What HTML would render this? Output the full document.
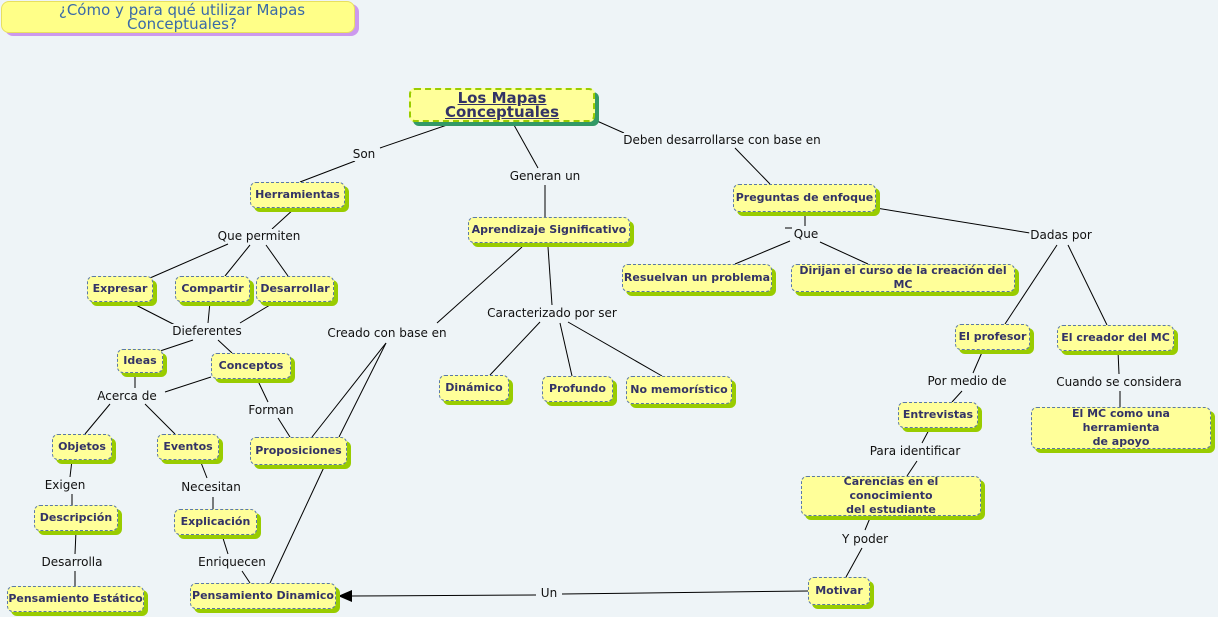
<!DOCTYPE html>
<html><head><meta charset="utf-8">
<style>
html,body{margin:0;padding:0;}
body{width:1218px;height:617px;background:#eef4f7;position:relative;overflow:hidden;font-family:"DejaVu Sans","Liberation Sans",sans-serif;}
.n{position:absolute;box-sizing:border-box;background:#ffff99;border:1px dashed #5a78a8;border-radius:6px;box-shadow:4px 4px 0 #99cc00;color:#333366;font-weight:bold;font-size:11px;display:flex;align-items:center;justify-content:center;text-align:center;line-height:14px;}
.l{position:absolute;font-size:12px;color:#111;white-space:nowrap;transform:translate(-50%,-50%);background:#eef4f7;padding:0 1px;}
svg{position:absolute;left:0;top:0;}
</style></head><body>
<svg width="1218" height="617">
<g stroke="#000" stroke-width="1" fill="none">
<line x1="447" y1="125" x2="380" y2="148"/><line x1="355" y1="161" x2="300" y2="182"/>
<line x1="514" y1="125" x2="538" y2="168"/><line x1="545" y1="185" x2="545" y2="217"/>
<line x1="597" y1="121" x2="624" y2="133"/><line x1="735" y1="148" x2="770" y2="184"/>
<line x1="295" y1="208" x2="272" y2="229"/>
<line x1="228" y1="244" x2="150" y2="278"/><line x1="250" y1="245" x2="225" y2="276"/><line x1="266" y1="245" x2="288" y2="276"/>
<line x1="130" y1="302" x2="175" y2="325"/><line x1="210" y1="302" x2="208" y2="323"/><line x1="275" y1="302" x2="240" y2="323"/>
<line x1="193" y1="340" x2="160" y2="351"/><line x1="218" y1="340" x2="232" y2="353"/>
<line x1="135" y1="373" x2="135" y2="388"/><line x1="211" y1="377" x2="165" y2="392"/>
<line x1="110" y1="404" x2="85" y2="434"/><line x1="145" y1="404" x2="175" y2="434"/>
<line x1="258" y1="381" x2="268" y2="402"/><line x1="278" y1="418" x2="290" y2="437"/>
<line x1="72" y1="460" x2="70" y2="477"/><line x1="72" y1="494" x2="72" y2="505"/>
<line x1="76" y1="531" x2="75" y2="554"/><line x1="75" y1="571" x2="75" y2="586"/>
<line x1="200" y1="460" x2="207" y2="478"/><line x1="213" y1="497" x2="213" y2="509"/>
<line x1="222" y1="535" x2="228" y2="554"/><line x1="242" y1="571" x2="250" y2="583"/>
<line x1="522" y1="247" x2="437" y2="323"/>
<line x1="386" y1="343" x2="312" y2="437"/><line x1="386" y1="343" x2="339" y2="437"/>
<line x1="325" y1="465" x2="270" y2="583"/>
<line x1="548" y1="247" x2="552" y2="305"/>
<line x1="540" y1="322" x2="490" y2="375"/><line x1="560" y1="323" x2="572" y2="376"/><line x1="568" y1="322" x2="662" y2="376"/>
<line x1="792" y1="228" x2="785" y2="228"/>
<line x1="790" y1="241" x2="735" y2="264"/><line x1="820" y1="242" x2="868" y2="264"/>
<line x1="876" y1="208" x2="1030" y2="233"/><line x1="805" y1="212" x2="805" y2="226"/>
<line x1="1057" y1="245" x2="1005" y2="324"/><line x1="1068" y1="245" x2="1107" y2="325"/>
<line x1="983" y1="350" x2="973" y2="373"/><line x1="962" y1="391" x2="952" y2="402"/>
<line x1="1118" y1="351" x2="1119" y2="374"/><line x1="1120" y1="391" x2="1120" y2="407"/>
<line x1="930" y1="428" x2="922" y2="443"/><line x1="917" y1="461" x2="907" y2="476"/>
<line x1="870" y1="518" x2="865" y2="530"/><line x1="862" y1="548" x2="846" y2="577"/>
<line x1="808" y1="591" x2="562" y2="594"/><line x1="536" y1="595" x2="350" y2="596"/>
</g>
<polygon points="338,596 352,590 352,602" fill="#000"/>
</svg>

<div class="n" style="left:1px;top:1px;width:354px;height:32px;background:#ffff88;border:1px solid #e8e060;border-radius:8px;box-shadow:4px 3px 0 #cc99ee;font-weight:normal;font-size:15px;color:#3a6aa8;justify-content:flex-start;padding-left:8px;">¿Cómo y para qué utilizar Mapas Conceptuales?</div>

<div class="n" style="left:409px;top:88px;width:186px;height:34px;border:2px dashed #99cc00;box-shadow:4px 4px 0 #339966;font-size:15px;"><span style="text-decoration:underline;">Los Mapas Conceptuales</span></div>

<div class="n" style="left:250px;top:182px;width:95px;height:26px;">Herramientas</div>
<div class="n" style="left:468px;top:217px;width:162px;height:26px;">Aprendizaje Significativo</div>
<div class="n" style="left:733px;top:184px;width:143px;height:28px;">Preguntas de enfoque</div>
<div class="n" style="left:87px;top:276px;width:66px;height:26px;">Expresar</div>
<div class="n" style="left:175px;top:276px;width:75px;height:26px;">Compartir</div>
<div class="n" style="left:256px;top:276px;width:78px;height:26px;">Desarrollar</div>
<div class="n" style="left:117px;top:349px;width:46px;height:24px;">Ideas</div>
<div class="n" style="left:211px;top:353px;width:80px;height:26px;">Conceptos</div>
<div class="n" style="left:52px;top:434px;width:60px;height:26px;">Objetos</div>
<div class="n" style="left:157px;top:434px;width:62px;height:26px;">Eventos</div>
<div class="n" style="left:250px;top:437px;width:97px;height:28px;">Proposiciones</div>
<div class="n" style="left:34px;top:505px;width:84px;height:26px;">Descripción</div>
<div class="n" style="left:174px;top:509px;width:83px;height:26px;">Explicación</div>
<div class="n" style="left:7px;top:586px;width:137px;height:26px;">Pensamiento Estático</div>
<div class="n" style="left:190px;top:583px;width:146px;height:26px;">Pensamiento Dinamico</div>
<div class="n" style="left:439px;top:375px;width:70px;height:26px;">Dinámico</div>
<div class="n" style="left:542px;top:376px;width:71px;height:26px;">Profundo</div>
<div class="n" style="left:626px;top:376px;width:106px;height:28px;">No memorístico</div>
<div class="n" style="left:622px;top:264px;width:150px;height:28px;">Resuelvan un problema</div>
<div class="n" style="left:791px;top:264px;width:224px;height:28px;">Dirijan el curso de la creación del MC</div>
<div class="n" style="left:955px;top:324px;width:75px;height:26px;">El profesor</div>
<div class="n" style="left:1057px;top:325px;width:117px;height:26px;">El creador del MC</div>
<div class="n" style="left:898px;top:402px;width:80px;height:26px;">Entrevistas</div>
<div class="n" style="left:1031px;top:407px;width:180px;height:42px;">El MC como una herramienta<br>de apoyo</div>
<div class="n" style="left:801px;top:476px;width:180px;height:40px;">Carencias en el conocimiento<br>del estudiante</div>
<div class="n" style="left:808px;top:577px;width:62px;height:28px;">Motivar</div>

<div class="l" style="left:364px;top:154px;">Son</div>
<div class="l" style="left:545px;top:176px;">Generan un</div>
<div class="l" style="left:722px;top:140px;">Deben desarrollarse con base en</div>
<div class="l" style="left:259px;top:236px;">Que permiten</div>
<div class="l" style="left:207px;top:331px;">Dieferentes</div>
<div class="l" style="left:127px;top:396px;">Acerca de</div>
<div class="l" style="left:271px;top:410px;">Forman</div>
<div class="l" style="left:65px;top:485px;">Exigen</div>
<div class="l" style="left:72px;top:562px;">Desarrolla</div>
<div class="l" style="left:211px;top:487px;">Necesitan</div>
<div class="l" style="left:232px;top:562px;">Enriquecen</div>
<div class="l" style="left:387px;top:333px;">Creado con base en</div>
<div class="l" style="left:552px;top:313px;">Caracterizado por ser</div>
<div class="l" style="left:806px;top:234px;">Que</div>
<div class="l" style="left:1061px;top:235px;">Dadas por</div>
<div class="l" style="left:967px;top:381px;">Por medio de</div>
<div class="l" style="left:1119px;top:382px;">Cuando se considera</div>
<div class="l" style="left:915px;top:451px;">Para identificar</div>
<div class="l" style="left:865px;top:539px;">Y poder</div>
<div class="l" style="left:549px;top:593px;">Un</div>
</body></html>
